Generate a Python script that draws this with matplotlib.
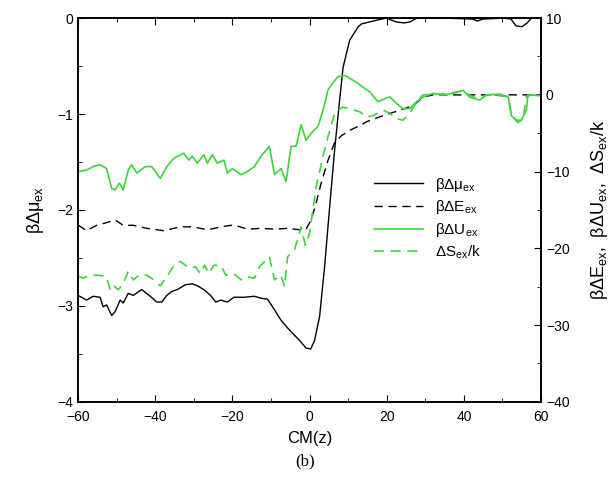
import matplotlib
matplotlib.use("Agg")
import matplotlib.pyplot as plt
from matplotlib.ticker import MultipleLocator

plt.rcParams['font.family'] = ['Liberation Sans', 'DejaVu Sans']

# beta*dmu_ex (left axis)
mu_x = [-60, -57.8, -56.1, -54.3, -53.5, -52.6, -51.3, -50.4, -49.1, -48.3, -47, -45.7,
        -43.5, -41.3, -39.6, -38.3, -37, -35.7, -34.3, -32.2, -30.4, -29.1, -27.4, -25.7,
        -24.3, -23, -21.3, -19.6, -17, -14.3, -12.6, -10.9, -9.1, -7.4, -5.7, -4.3, -2.6,
        -0.9, 0.3, 1.3, 2.6, 3.9, 5.2, 6.5, 7.8, 8.7, 10.4, 12.6, 13.5, 16.5, 19.9, 22.5,
        24.5, 26, 27.8, 35, 42.3, 43.5, 44.9, 50, 52.2, 53.5, 55, 56.4, 57.5, 60]
mu_y = [-2.89, -2.94, -2.90, -2.91, -3.01, -2.99, -3.10, -3.06, -2.94, -2.97, -2.87, -2.89,
        -2.83, -2.90, -2.96, -2.96, -2.89, -2.85, -2.83, -2.78, -2.77, -2.79, -2.83, -2.89,
        -2.96, -2.94, -2.96, -2.91, -2.91, -2.90, -2.92, -2.93, -3.04, -3.15, -3.23, -3.29,
        -3.36, -3.44, -3.45, -3.36, -3.11, -2.59, -1.97, -1.37, -0.85, -0.51, -0.23, -0.09,
        -0.06, -0.03, 0.0, -0.04, -0.05, -0.04, 0.0, 0.0, -0.01, -0.03, -0.01, 0.0, -0.01,
        -0.08, -0.09, -0.05, 0.0, 0.0]

# beta*dE_ex (right axis)
e_x = [-60, -57.8, -55.2, -52.6, -50.4, -48.3, -45.7, -42.2, -37.8, -33.5, -30, -26.5,
       -23, -20.4, -18.7, -16.1, -12.6, -9.1, -5.7, -2.2, -0.9, 0.4, 1.7, 3.0, 4.8, 6.5,
       8.3, 10.9, 13.5, 14.8, 19.1, 23.4, 26.8, 29.4, 32, 40, 50, 60]
e_y = [-16.96, -17.7, -17.0, -16.65, -16.3, -17.0, -17.0, -17.4, -17.7, -17.2, -17.2,
       -17.6, -17.2, -17.0, -17.1, -17.5, -17.4, -17.5, -17.4, -17.6, -17.5, -16.3, -14.1,
       -11.5, -8.5, -6.2, -5.3, -4.5, -3.9, -3.5, -2.7, -2.0, -1.4, -0.3, 0.0, 0.0, 0.0, 0.0]

# beta*dU_ex (right axis)
u_x = [-60, -57.8, -56.1, -54.3, -52.6, -51.3, -50.4, -49.3, -48.3, -47, -46.1, -44.8,
       -42.6, -40.9, -38.7, -37, -35.2, -32.6, -31.3, -30.4, -29.1, -27.4, -26.5, -25.2,
       -23.9, -22.2, -21.3, -20, -17.8, -16.1, -14.3, -12.6, -10.4, -9.1, -7.4, -6.1,
       -4.8, -3.5, -2.2, -0.9, 0.4, 2.2, 3.5, 4.8, 6.1, 7.4, 9.3, 10.9, 12.3, 13.8, 15.6,
       17.7, 19.5, 20.8, 22.5, 24.2, 26.0, 27.7, 29.4, 32, 34.6, 37.2, 39.8, 41.5, 44.1,
       45.8, 49.3, 51.5, 52.3, 53.6, 54.9, 56.2, 56.6, 59.7]
u_y = [-10.0, -9.8, -9.35, -9.1, -9.6, -12.2, -12.4, -11.5, -12.4, -9.8, -9.1, -10.2,
       -9.35, -9.35, -10.9, -9.35, -8.26, -7.6, -8.5, -8.0, -8.9, -7.8, -8.9, -7.8, -8.9,
       -8.5, -10.2, -9.6, -10.4, -10.0, -9.35, -8.0, -6.7, -10.4, -9.6, -11.3, -6.7, -6.7,
       -3.9, -5.9, -5.0, -4.1, -2.0, 0.65, 1.6, 2.4, 2.5, 2.0, 1.6, 1.0, 0.4, -0.9, -0.5,
       -0.27, -1.1, -1.8, -1.8, -0.9, -0.3, 0.2, 0.0, 0.2, 0.6, -0.3, -0.7, 0.0, 0.1,
       -0.3, -2.7, -3.3, -3.3, -2.0, 0.0, -0.1]

# dS_ex/k (right axis)
s_x = [-60, -58.7, -57, -54.8, -52.6, -51.7, -50.9, -49.6, -48.3, -47, -45.7, -43.9,
       -42.2, -40.4, -38.7, -37, -34.8, -33.5, -32.2, -30.9, -29.6, -28.3, -27.2, -26.1,
       -24.8, -23, -21.7, -19.6, -17.8, -16.1, -14.3, -13, -10.4, -9.1, -7.4, -6.5, -5.7,
       -3.9, -2.2, -1.1, 0, 1.7, 3.5, 4.8, 6.5, 8.5, 10.4, 13, 14.8, 16.5, 19.1, 20.8,
       22.5, 24.2, 26, 27.7, 29.4, 34, 39.8, 42, 44.1, 46, 51.5, 52.3, 54, 55.3, 56.2,
       58, 60]
s_y = [-23.6, -23.9, -23.5, -23.5, -23.7, -25.4, -24.8, -25.4, -24.6, -23.0, -24.1,
       -23.4, -23.5, -24.1, -24.9, -23.7, -22.0, -21.7, -22.2, -22.6, -22.4, -23.3, -22.2,
       -23.3, -22.2, -22.2, -23.5, -23.3, -24.1, -23.7, -23.9, -22.4, -21.1, -24.1, -23.5,
       -25.0, -21.1, -20.2, -17.2, -19.6, -18.0, -12.0, -8.0, -5.4, -2.4, -1.6, -1.8,
       -2.2, -2.9, -2.7, -2.0, -2.4, -3.1, -3.3, -2.4, -0.9, 0.0, 0.1, 0.5, -0.2, -0.6,
       0.0, -0.2, -2.7, -3.6, -3.2, -0.2, 0.0, 0.0]

green = '#3fd43f'

fig = plt.figure(figsize=(6.1, 4.9), dpi=100)
ax = fig.add_axes([0.128, 0.180, 0.759, 0.783])
ax2 = ax.twinx()

l1, = ax.plot(mu_x, mu_y, color='black', lw=1.0)
l2, = ax2.plot(e_x, e_y, color='black', lw=1.0, ls=(0, (6, 4)))
l3, = ax2.plot(u_x, u_y, color=green, lw=1.2)
l4, = ax2.plot(s_x, s_y, color=green, lw=1.2, ls=(0, (6, 4)))

ax.set_xlim(-60, 60)
ax.set_ylim(-4, 0)
ax2.set_ylim(-40, 10)

ax.xaxis.set_major_locator(MultipleLocator(20))
ax.xaxis.set_minor_locator(MultipleLocator(10))
ax.yaxis.set_major_locator(MultipleLocator(1))
ax.yaxis.set_minor_locator(MultipleLocator(0.5))
ax2.yaxis.set_major_locator(MultipleLocator(10))
ax2.yaxis.set_minor_locator(MultipleLocator(5))

ax.tick_params(which='both', direction='in', top=True, labelsize=10, length=5)
ax.tick_params(which='minor', length=3)
ax.tick_params(axis='x', pad=6)
ax2.tick_params(which='both', direction='in', labelsize=10, length=5)
ax2.tick_params(which='minor', length=3)
for a in (ax, ax2):
    for s in a.spines.values():
        s.set_linewidth(1.2)

ax.set_xlabel('CM(z)', fontsize=12, labelpad=5)
ax.set_ylabel(r'$\mathregular{\beta\Delta\mu_{ex}}$', fontsize=13, labelpad=8)
ax2.set_ylabel(r'$\mathregular{\beta\Delta E_{ex},\ \beta\Delta U_{ex},\ \Delta S_{ex}/k}$',
               fontsize=13, labelpad=14)

ax.legend([l1, l2, l3, l4],
          [r'$\mathregular{\beta\Delta\mu_{ex}}$', r'$\mathregular{\beta\Delta E_{ex}}$',
           r'$\mathregular{\beta\Delta U_{ex}}$', r'$\mathregular{\Delta S_{ex}/k}$'],
          loc='upper left', bbox_to_anchor=(0.61, 0.625), frameon=False, fontsize=11,
          handlelength=3.2, labelspacing=0.3)

fig.text(0.5, 0.05, '(b)', ha='center', fontsize=12, family='Liberation Serif')

fig.savefig('out.png', dpi=100)
